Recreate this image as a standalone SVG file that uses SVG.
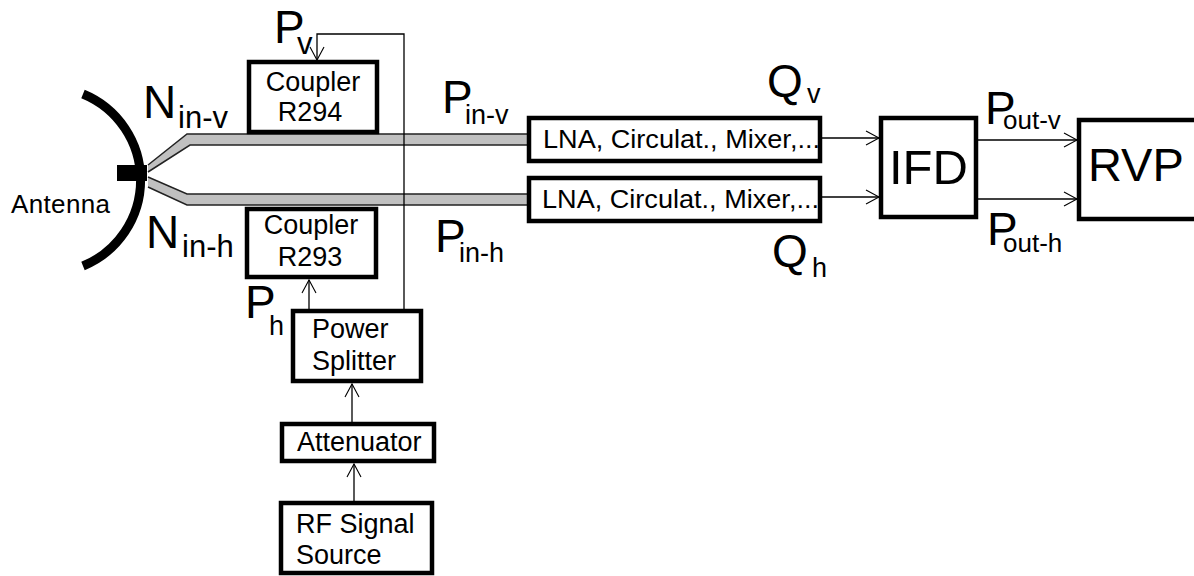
<svg xmlns="http://www.w3.org/2000/svg" width="1194" height="576" viewBox="0 0 1194 576">
<style>
text{font-family:"Liberation Sans",Arial,sans-serif;fill:#000}
.box{fill:#fff;stroke:#000;stroke-width:4.5}
.l{font-size:26px}
.b{font-size:49px}
.s{font-size:27px}
.m{font-size:46px}
.sub{font-size:27px}
.subn{font-size:31px}
.wg{fill:#c0c0c0;stroke:none}
.wl{fill:none;stroke:#222;stroke-width:1.5}
.c{fill:none;stroke:#000;stroke-width:1.3}
</style>
<defs>
<marker id="a" markerUnits="userSpaceOnUse" markerWidth="16" markerHeight="16" refX="14" refY="8" orient="auto">
<path d="M1 1L14 8L1 15" fill="none" stroke="#000" stroke-width="1.1"/>
</marker>
</defs>
<rect width="1194" height="576" fill="#fff"/>
<g id="antenna">
<path d="M83 94A93 93 0 0 1 83 266" fill="none" stroke="#000" stroke-width="9"/>
<rect x="117" y="165" width="30" height="16" fill="#000"/>
<text class="l" x="11" y="213" textLength="99">Antenna</text>
</g>
<g id="connectors">
<path class="wg" d="M148 165L187 134H527V145H190L148 172Z"/>
<path class="wg" d="M148 177L187 194H527V205H187L148 187Z"/>
<path class="wl" d="M148 165L187 134H527M148 172L190 145H527M148 177L187 194H527M148 187L187 205H527"/>
<path class="c" d="M404 309V34H317V60" marker-end="url(#a)"/>
<path class="c" d="M309 309V280" marker-end="url(#a)"/>
<path class="c" d="M352 422V384" marker-end="url(#a)"/>
<path class="c" d="M354 501V464" marker-end="url(#a)"/>
<path class="c" d="M822 138H879" marker-end="url(#a)"/>
<path class="c" d="M822 197H879" marker-end="url(#a)"/>
<path class="c" d="M978 140H1077" marker-end="url(#a)"/>
<path class="c" d="M978 199H1077" marker-end="url(#a)"/>
</g>
<g id="coupler-r294"><rect class="box" x="249" y="62" width="128" height="70"/><text class="s" x="313" y="91" text-anchor="middle">Coupler</text><text class="s" x="310" y="121" text-anchor="middle">R294</text></g>
<g id="coupler-r293"><rect class="box" x="247" y="209" width="129" height="68"/><text class="s" x="311" y="234" text-anchor="middle">Coupler</text><text class="s" x="310" y="266" text-anchor="middle">R293</text></g>
<g id="lna-v"><rect class="box" x="529" y="118" width="291" height="43"/><text class="l" x="543" y="148" textLength="277" lengthAdjust="spacingAndGlyphs">LNA, Circulat., Mixer,...</text></g>
<g id="lna-h"><rect class="box" x="529" y="178" width="291" height="43"/><text class="l" x="542" y="208" textLength="277" lengthAdjust="spacingAndGlyphs">LNA, Circulat., Mixer,...</text></g>
<g id="ifd"><rect class="box" x="881" y="118" width="95" height="99"/><text class="b" x="889" y="184">IFD</text></g>
<g id="rvp"><rect class="box" x="1079" y="120" width="125" height="99"/><text x="1088" y="181" font-size="47">RVP</text></g>
<g id="power-splitter"><rect class="box" x="293" y="311" width="128" height="70"/><text class="s" x="312" y="338">Power</text><text class="s" x="312" y="370">Splitter</text></g>
<g id="attenuator"><rect class="box" x="282" y="424" width="152" height="37"/><text class="s" x="297" y="451">Attenuator</text></g>
<g id="rf-source"><rect class="box" x="281" y="503" width="151" height="70"/><text class="s" x="296" y="533">RF Signal</text><text class="s" x="296" y="564">Source</text></g>
<g id="labels">
<text class="m" x="274" y="43">P</text><text class="subn" x="297" y="54">v</text>
<text class="m" x="143" y="118">N</text><text class="subn" x="178" y="128">in-v</text>
<text class="m" x="146" y="248">N</text><text class="subn" x="182" y="257">in-h</text>
<text class="m" x="442" y="113">P</text><text class="sub" x="465" y="124">in-v</text>
<text class="m" x="435" y="252">P</text><text class="sub" x="459" y="262">in-h</text>
<text class="m" x="767" y="97">Q</text><text class="sub" x="807" y="103">v</text>
<text class="m" x="772" y="267">Q</text><text class="sub" x="812" y="277">h</text>
<text class="m" x="245" y="318">P</text><text class="sub" x="269" y="335">h</text>
<text class="m" x="985" y="124">P</text><text x="1003" y="129" font-size="26">out-v</text>
<text class="m" x="987" y="245">P</text><text x="1003" y="252" font-size="26">out-h</text>
</g>
</svg>
